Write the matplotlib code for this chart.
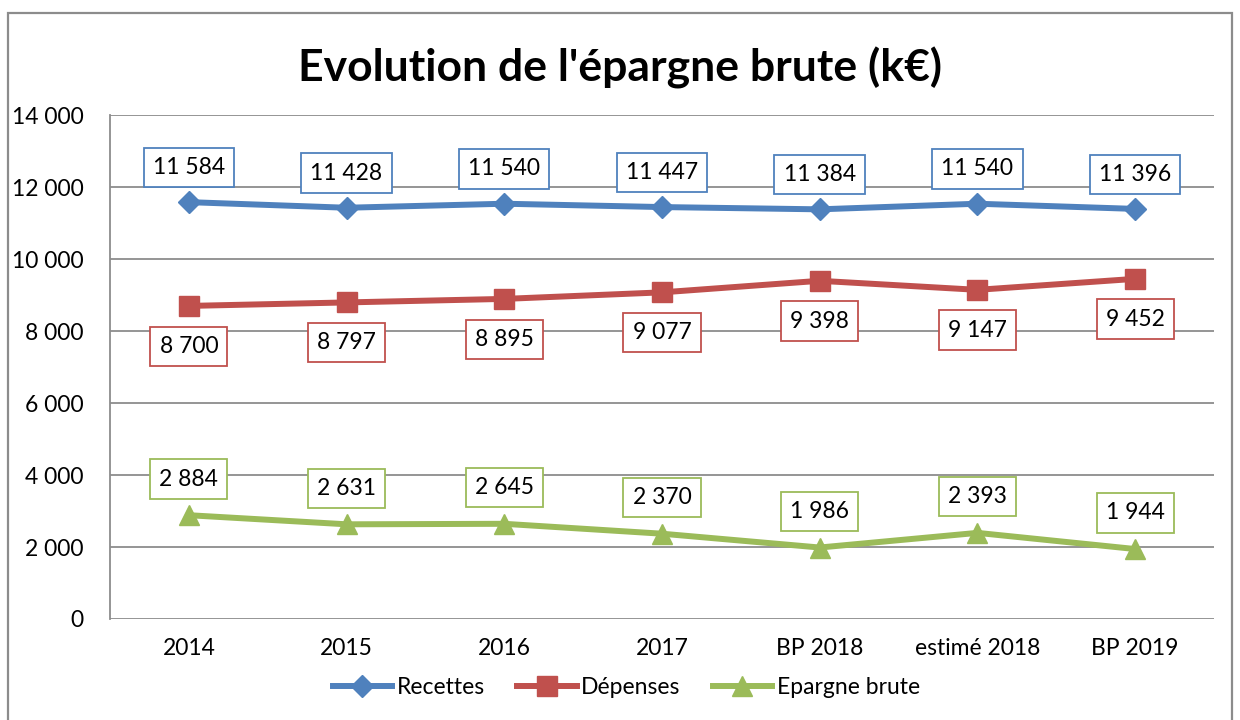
import matplotlib
matplotlib.use("Agg")
import matplotlib.pyplot as plt
from matplotlib.patches import Rectangle

# data (k€)
categories = ["2014", "2015", "2016", "2017", "BP 2018", "estimé 2018", "BP 2019"]
recettes = [11584, 11428, 11540, 11447, 11384, 11540, 11396]
depenses = [8700, 8797, 8895, 9077, 9398, 9147, 9452]
epargne = [2884, 2631, 2645, 2370, 1986, 2393, 1944]
y_ticks = [0, 2000, 4000, 6000, 8000, 10000, 12000, 14000]


def fmt(v):
    return f"{v:,}".replace(",", " ")


plt.rcParams['font.family'] = ['Lato', 'DejaVu Sans']

fig = plt.figure(figsize=(12.4, 7.2), dpi=100)
ax = fig.add_axes([0.0887, 0.1403, 0.8903, 0.6997])

# outer chart border
fig.patches.append(Rectangle((8 / 1240, -0.05), 1224 / 1240, 1 - 13 / 720 + 0.05,
                             transform=fig.transFigure, fill=False,
                             edgecolor='#8c8c8c', lw=1.6, clip_on=False))

x = list(range(len(categories)))
series = [
    (recettes, 'Recettes', '#4F81BD', 'D', 11, 25),
    (depenses, 'Dépenses', '#C0504D', 's', 14, -29),
    (epargne, 'Epargne brute', '#9BBB59', '^', 14, 26),
]

for vals, name, col, mk, ms, off in series:
    ax.plot(x, vals, color=col, lw=4.3, marker=mk, markersize=ms,
            markeredgecolor=col, label=name, zorder=3)
    for xi, v in zip(x, vals):
        ax.annotate(fmt(v), (xi, v), xytext=(0, off), textcoords='offset points',
                    ha='center', va='center', fontsize=16.5, color='black',
                    bbox=dict(boxstyle='square,pad=0.4', fc='white', ec=col, lw=1.3),
                    zorder=4)

ax.set_xlim(-0.5, len(categories) - 0.5)
ax.set_ylim(0, 14000)
ax.set_yticks(y_ticks)
ax.set_yticklabels([fmt(t) for t in y_ticks], fontsize=16.5)
ax.set_xticks(x)
ax.set_xticklabels(categories, fontsize=16.5)
ax.tick_params(axis='both', length=0)
ax.tick_params(axis='y', pad=19)
ax.tick_params(axis='x', pad=14)
ax.grid(axis='y', color='#8c8c8c', lw=1.3)
ax.set_axisbelow(True)
for s in ['top', 'right', 'bottom']:
    ax.spines[s].set_visible(False)
ax.spines['left'].set_color('#8c8c8c')
ax.spines['left'].set_linewidth(1.3)

fig.text(0.5, 0.905, "Evolution de l'épargne brute (k€)", ha='center', va='center',
         fontsize=32, fontweight='bold')

fig.legend(*ax.get_legend_handles_labels(), loc='center',
           bbox_to_anchor=(0.505, 1 - 688 / 720), ncol=3, frameon=False,
           fontsize=16.5, handlelength=2.6, columnspacing=1.4, handletextpad=0.2)

fig.savefig("out.png", dpi=100)
